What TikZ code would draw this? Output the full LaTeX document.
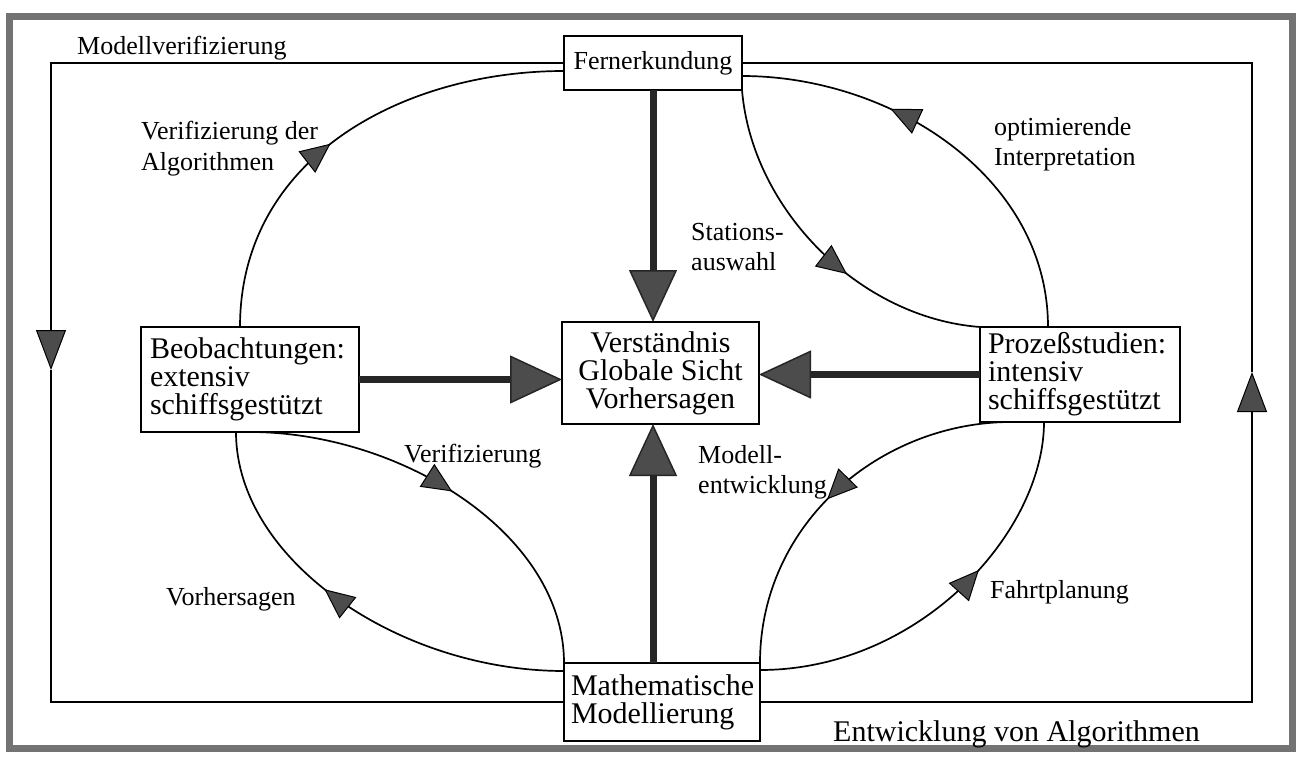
\documentclass[tikz,border=0pt]{standalone}
\usepackage{fontspec}
\setmainfont{Liberation Serif}
\usetikzlibrary{arrows.meta,decorations.markings,calc}
\begin{document}
\begin{tikzpicture}[x=1pt,y=-1pt,
  box/.style={draw=black, line width=1.6pt, inner sep=0pt, outer sep=0pt, anchor=north west},
  boxfont/.style={font=\fontsize{30}{28}\selectfont},
  lbl/.style={font=\fontsize{26}{30}\selectfont, inner sep=0pt, anchor=base west, align=left},
  conn/.style={line width=1.7pt, draw=black},
  thickarrow/.style={line width=7pt, draw=black!85, -{Triangle[length=52pt,width=48pt,fill=black!70,line width=1.5pt]}},
  sidetip/.style={-{Triangle[length=40pt,width=30pt,fill=black!70,line width=1pt]}},
  markarrow/.style={postaction={decorate}, decoration={markings,
     mark=at position #1 with {\arrow{Triangle[length=30pt,width=27pt,fill=black!70,line width=1pt]}}}}
]
\useasboundingbox (0,0) rectangle (1301,757);
\fill[white] (0,0) rectangle (1301,757);
% outer frame
\draw[line width=7pt, draw=black!55] (9,16.5) rectangle (1292,748.5);

% boxes
\node[box, minimum width=178pt, minimum height=54pt, font=\fontsize{26}{30}\selectfont] (fern) at (564,36) {Fernerkundung};
\node[box, boxfont, minimum width=197pt, minimum height=102pt, align=center] (verst) at (562,322) {Verständnis\\Globale Sicht\\Vorhersagen};
\node[box, boxfont, minimum width=218pt, minimum height=105pt, inner xsep=9pt, text width=200pt, align=left] (beob) at (141,327) {Beobachtungen:\\extensiv\\schiffsgestützt};
\node[box, boxfont, minimum width=200pt, minimum height=95pt, inner xsep=8pt, text width=184pt, align=left] (proz) at (980,327) {Prozeßstudien:\\intensiv\\schiffsgestützt};
\node[box, boxfont, minimum width=196pt, minimum height=78pt, inner xsep=7pt, text width=182pt, align=left] (math) at (564,663) {Mathematische\\Modellierung};

% outer loop
\coordinate (tl) at (51,63);
\coordinate (la) at (51,370);
\coordinate (tr) at (1252,63);
\coordinate (ra) at (1252,372);
\draw[conn, sidetip] (fern.west) -- (tl) -- (la);
\draw[conn] (la) |- (math.west);
\draw[conn, sidetip] (math.east) -| (ra);
\draw[conn] (ra) -- (tr) -- (fern.east);

% thick arrows
\draw[thickarrow] (fern.south) -- (fern.south |- verst.north);
\draw[thickarrow] (math.north -| fern.south) -- (verst.south -| fern.south);
\draw[thickarrow] (beob.east) -- (verst.west |- beob.east);
\draw[thickarrow] (proz.west) -- (verst.east |- proz.west);

% curves
\draw[conn, markarrow=0.46] ($(beob.north)+(-10,0)$) .. controls +(0,-170) and +(-160,0) .. ($(fern.west)+(0,8)$);
\draw[conn, markarrow=0.6] (fern.south east) .. controls +(10,120) and +(-120,-9) .. (proz.north west);
\draw[conn, markarrow=0.65] ($(proz.north west)+(68,0)$) .. controls +(0,-150) and +(150,0) .. ($(fern.east)+(0,13)$);
\draw[conn, markarrow=0.5] (beob.south) .. controls +(150,0) and +(0,-130) .. (math.north west);
\draw[conn, markarrow=0.58] ($(math.north west)+(0,8)$) .. controls +(-165,0) and +(0,128) .. ($(beob.south)+(-14,0)$);
\draw[conn, markarrow=0.53] ($(proz.south west)+(31,0)$) .. controls +(-130,0) and +(0,-140) .. (math.north east);
\draw[conn, markarrow=0.6] ($(math.north east)+(0,7)$) .. controls +(160,0) and +(0,110) .. ($(proz.south west)+(64,0)$);

% labels
\node[lbl] (l1) at (77,55) {Modellverifizierung};
\node[lbl] (l2) at (141,170) {Verifizierung der\\Algorithmen};
\node[lbl] (l3) at (994,165) {optimierende\\Interpretation};
\node[lbl] (l4) at (691,270) {Stations-\\auswahl};
\node[lbl] (l5) at (404,462) {Verifizierung};
\node[lbl] (l6) at (166,605) {Vorhersagen};
\node[lbl] (l7) at (698,493) {Modell-\\entwicklung};
\node[lbl] (l8) at (990,598) {Fahrtplanung};
\node[lbl, font=\fontsize{30}{30}\selectfont] (l9) at (833,741) {Entwicklung von Algorithmen};
\end{tikzpicture}
\end{document}
